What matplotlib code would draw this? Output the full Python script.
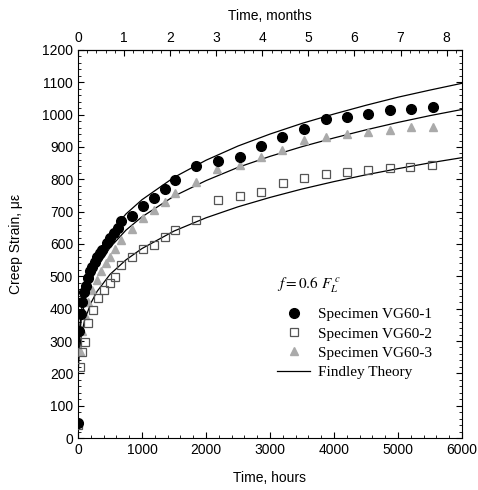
import matplotlib
matplotlib.use("Agg")
from matplotlib import pyplot as plt
from matplotlib.ticker import MultipleLocator, FixedLocator
from matplotlib.lines import Line2D

# Specimen VG60-1 (filled circles)
hours1 = [0, 20, 45, 70, 95, 120, 150, 185, 220, 260, 300, 344, 380, 448, 500, 558, 630, 672,
          844, 1016, 1188, 1359, 1520, 1844, 2192, 2531, 2859, 3192, 3531, 3870, 4198, 4536,
          4875, 5203, 5542]
strain1 = [46, 330, 385, 420, 450, 470, 495, 515, 530, 545, 560, 572, 581, 602, 619, 633, 649, 671,
           688, 718, 741, 769, 798, 842, 858, 870, 903, 932, 955, 987, 994, 1002,
           1014, 1019, 1024]

# Specimen VG60-2 (open squares)
hours2 = [0, 24, 60, 110, 160, 240, 320, 400, 500, 580, 672, 844, 1016, 1188, 1359, 1520, 1848,
          2192, 2531, 2859, 3198, 3531, 3870, 4198, 4536, 4875, 5188, 5536]
strain2 = [40, 220, 265, 298, 356, 396, 432, 458, 478, 499, 535, 559, 584, 597, 621, 643, 674,
           736, 747, 762, 790, 805, 817, 824, 829, 836, 839, 844]

# Specimen VG60-3 (grey triangles)
hours3 = [0, 24, 60, 110, 160, 220, 290, 360, 430, 500, 580, 672, 844, 1016, 1188, 1359, 1520,
          1848, 2167, 2531, 2859, 3192, 3536, 3870, 4198, 4536, 4875, 5203, 5542]
strain3 = [45, 270, 330, 380, 420, 458, 490, 515, 540, 560, 585, 612, 645, 680, 705, 730, 757,
           793, 831, 844, 869, 891, 922, 932, 940, 947, 953, 961, 963]

# Findley theory curves
theory_hours = [0, 1, 5, 10, 25, 50, 100, 200, 300, 500, 750, 1000, 1500, 2000, 2500, 3000,
                3500, 4000, 4500, 5000, 5500, 6000]
theory1 = [50, 186, 248, 283, 339, 390, 450, 521, 568, 634, 693, 737, 806, 859, 903, 940,
           973, 1002, 1029, 1054, 1076, 1097]
theory2 = [50, 156, 204, 232, 275, 315, 362, 417, 454, 506, 551, 586, 640, 681, 715, 744,
           770, 793, 814, 833, 851, 867]
theory3 = [50, 175, 233, 265, 317, 364, 419, 485, 528, 589, 643, 684, 748, 796, 837, 871,
           901, 928, 953, 976, 997, 1016]

month_ticks = [0, 1, 2, 3, 4, 5, 6, 7, 8]
HOURS_PER_MONTH = 720

plt.rcParams['font.family'] = ['Liberation Sans', 'DejaVu Sans']
plt.rcParams['mathtext.fontset'] = 'stix'

fig = plt.figure(figsize=(4.78, 4.90), dpi=100)
ax = fig.add_axes([0.1632, 0.1061, 0.8033, 0.7919])

ax.plot(theory_hours, theory1, color='black', lw=0.9, zorder=2)
ax.plot(theory_hours, theory2, color='black', lw=0.9, zorder=2)
ax.plot(theory_hours, theory3, color='black', lw=0.9, zorder=2)

ax.plot(hours3, strain3, ls='none', marker='^', ms=6.3, color='#aaaaaa', mec='#aaaaaa', zorder=3)
ax.plot(hours2, strain2, ls='none', marker='s', ms=6, mfc='none', mec='#555555', mew=0.9, zorder=4)
ax.plot(hours1, strain1, ls='none', marker='o', ms=7, color='black', zorder=5)

ax.set_xlim(0, 6000)
ax.set_ylim(0, 1200)
ax.xaxis.set_major_locator(MultipleLocator(1000))
ax.xaxis.set_minor_locator(MultipleLocator(200))
ax.yaxis.set_major_locator(MultipleLocator(100))
ax.yaxis.set_minor_locator(MultipleLocator(20))
ax.tick_params(which='both', direction='in', right=True, labelsize=10)
ax.tick_params(which='major', length=4, width=0.8)
ax.tick_params(which='minor', length=2, width=0.6)
ax.set_xlabel('Time, hours', fontsize=10, labelpad=10)
ax.set_ylabel('Creep Strain, \u03bc\u03b5', fontsize=10, labelpad=14)

top = ax.secondary_xaxis('top', functions=(lambda h: h / HOURS_PER_MONTH,
                                           lambda m: m * HOURS_PER_MONTH))
top.xaxis.set_major_locator(FixedLocator(month_ticks))
top.xaxis.set_minor_locator(MultipleLocator(0.2))
top.tick_params(which='both', direction='in', labelsize=10)
top.tick_params(which='major', length=4, width=0.8)
top.tick_params(which='minor', length=2, width=0.6)
top.set_xlabel('Time, months', fontsize=10, labelpad=8)

handles = [
    Line2D([], [], ls='none', marker='o', ms=7, color='black'),
    Line2D([], [], ls='none', marker='s', ms=6, mfc='none', mec='#555555', mew=0.9),
    Line2D([], [], ls='none', marker='^', ms=6.3, color='#aaaaaa'),
    Line2D([], [], color='black', lw=0.9),
]
labels = ['Specimen VG60-1', 'Specimen VG60-2', 'Specimen VG60-3', 'Findley Theory']
leg = ax.legend(handles, labels, loc='upper left', bbox_to_anchor=(0.49, 0.445),
                frameon=False, title='$f = 0.6\\ F_L^{\\ c}$', alignment='left',
                prop={'family': 'Liberation Serif', 'size': 11},
                title_fontproperties={'family': 'Liberation Serif', 'size': 11},
                handlelength=2.2, handletextpad=0.5, labelspacing=0.36, borderpad=0.2)
leg._legend_box.sep = 9

fig.savefig('out.png', dpi=100)
